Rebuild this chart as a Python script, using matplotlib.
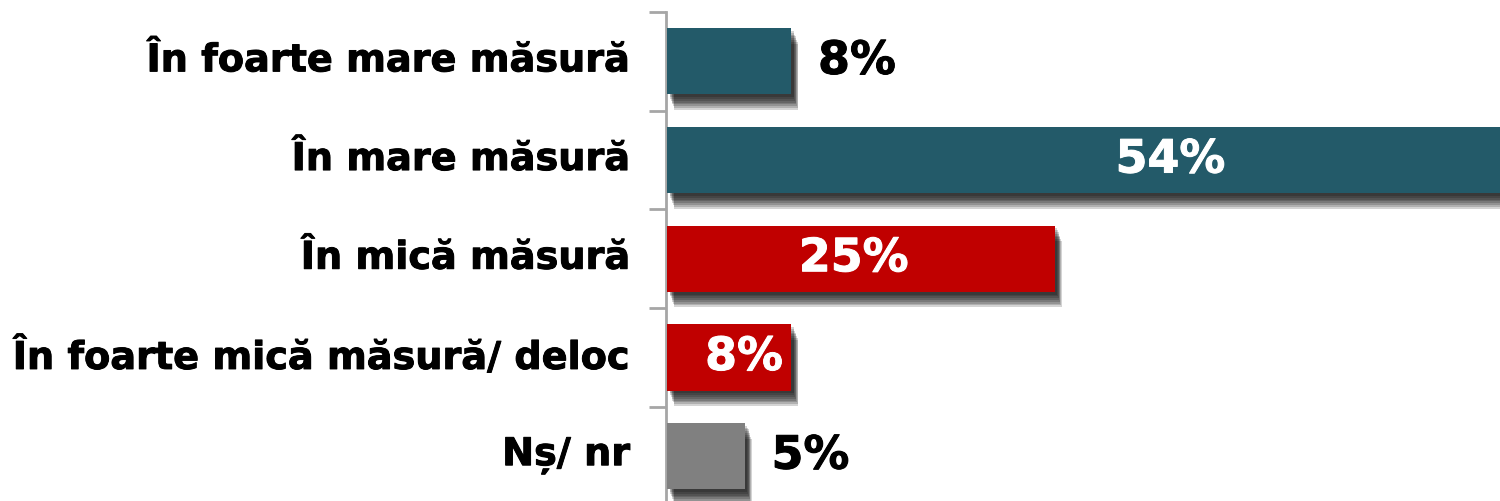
import matplotlib
matplotlib.use("Agg")
import matplotlib.pyplot as plt
import matplotlib.patheffects as pe
from matplotlib.transforms import offset_copy

categories = ["În foarte mare măsură", "În mare măsură", "În mică măsură",
              "În foarte mică măsură/ deloc", "Nș/ nr"]
values = [8, 54, 25, 8, 5]
labels = ["8%", "54%", "25%", "8%", "5%"]
colors = ["#235a69", "#235a69", "#c00000", "#c00000", "#808080"]
inside = [False, True, True, True, False]
label_shift_px = [0, 85, -7, 15, 0]

plt.rcParams['font.family'] = ['DejaVu Sans']
fig = plt.figure(figsize=(15, 5.01), dpi=100)
ax = fig.add_axes([665.5 / 1500, -4.5 / 501, (1500 - 665.5) / 1500, 493.5 / 501])

ypos = list(range(len(categories)))
bars = ax.barh(ypos, values, height=0.67, color=colors, zorder=3)
shadow = []
for k in range(8):
    shadow.append(pe.SimplePatchShadow(offset=(2 + 0.45 * k, -(2 + 1.3 * k)),
                                       shadow_rgbFace='black', alpha=0.17))
for b in bars:
    b.set_path_effects(shadow + [pe.Normal()])

ax.set_xlim(-0.1, 53.74)
ax.set_ylim(len(categories) - 0.5, -0.5)
ax.set_yticks([i - 0.5 for i in range(len(categories) + 1)])
ax.set_yticklabels([])
ax.tick_params(axis='y', length=12, width=2, color='#a6a6a6', direction='out')
ax.set_xticks([])
for s in ['top', 'right', 'bottom']:
    ax.spines[s].set_visible(False)
ax.spines['left'].set_color('#a6a6a6')
ax.spines['left'].set_linewidth(2)
ax.patch.set_visible(False)

def heavy(col):
    return [pe.withStroke(linewidth=0.7, foreground=col)]

for i, c in enumerate(categories):
    ax.text(-0.1, i, c, transform=offset_copy(ax.transData, fig=fig, x=-35, y=0, units='dots'),
            ha='right', va='center', fontsize=27.5, fontweight='bold', color='black',
            path_effects=heavy('black'))

for i, (v, lab) in enumerate(zip(values, labels)):
    if inside[i]:
        tr = offset_copy(ax.transData, fig=fig, x=label_shift_px[i], y=0, units='dots')
        ax.text(v / 2, i, lab, transform=tr, ha='center', va='center',
                fontsize=33, fontweight='bold', color='white', zorder=5,
                path_effects=heavy('white'))
    else:
        tr = offset_copy(ax.transData, fig=fig, x=27, y=0, units='dots')
        ax.text(v, i, lab, transform=tr, ha='left', va='center',
                fontsize=33, fontweight='bold', color='black', zorder=5,
                path_effects=heavy('black'))

fig.savefig("out.png", dpi=100)
